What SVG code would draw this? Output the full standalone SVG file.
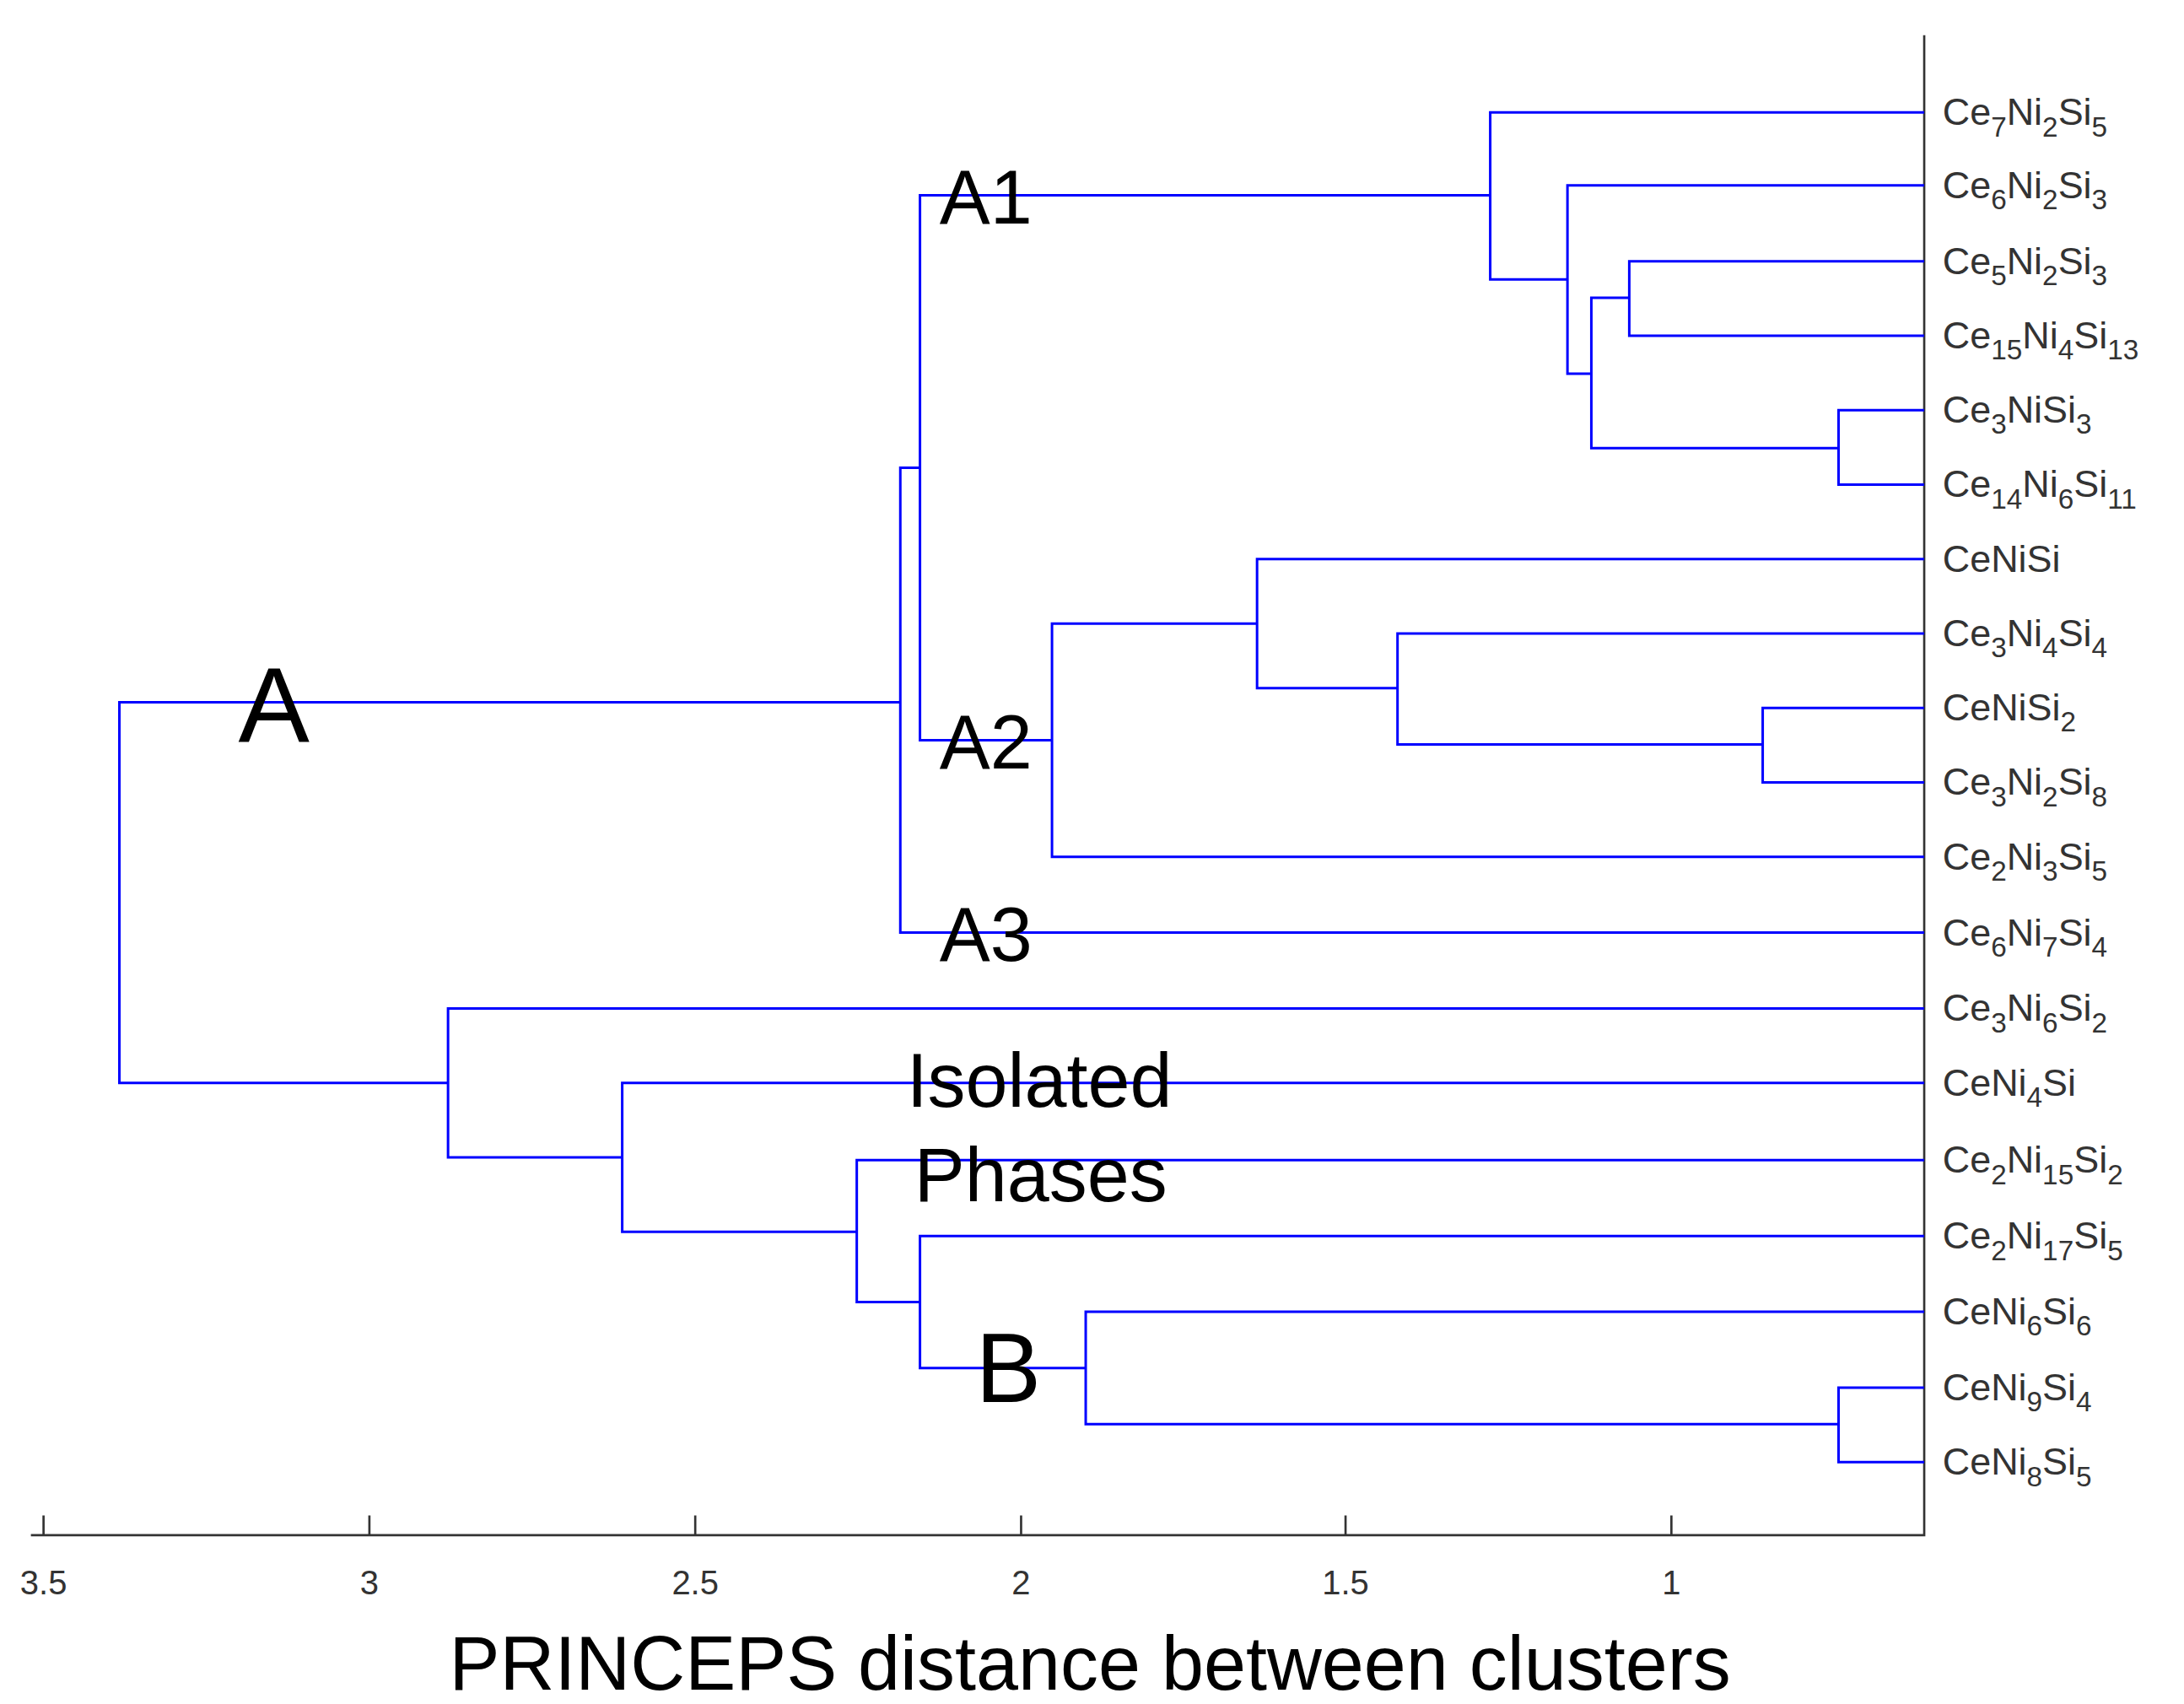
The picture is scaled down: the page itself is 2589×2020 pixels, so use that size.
<svg xmlns="http://www.w3.org/2000/svg" width="2589" height="2020" viewBox="0 0 2589 2020">
<style>
.ln{fill:none;stroke:#0000ff;stroke-width:1.8}
.ax{fill:none;stroke:#333;stroke-width:1.6}
.lf{font-family:"Liberation Sans",Arial,sans-serif;font-size:27px;fill:#333}
.s{font-size:20px}
.tk{font-family:"Liberation Sans",Arial,sans-serif;font-size:24px;fill:#333;text-anchor:middle}
.big{font-family:"Liberation Sans",Arial,sans-serif;fill:#000}
</style>
<rect width="2589" height="2020" fill="#fff"/>
<g transform="scale(1.665)">
<g id="axes">
<path class="ax" d="M1370 25V1093H22"/>
<path class="ax" d="M31 1093v-14M263 1093v-14M495 1093v-14M727 1093v-14M958 1093v-14M1190 1093v-14"/>
<text class="tk" x="31" y="1135">3.5</text><text class="tk" x="263" y="1135">3</text><text class="tk" x="495" y="1135">2.5</text><text class="tk" x="727" y="1135">2</text><text class="tk" x="958" y="1135">1.5</text><text class="tk" x="1190" y="1135">1</text>
<text class="big" x="776" y="1203" font-size="54" text-anchor="middle">PRINCEPS distance between clusters</text>
</g>
<g id="connectors">
<path class="ln" d="M1370 292H1309V345H1370M1370 186H1160V239H1370M1160 212H1133V319H1309M1370 132H1116V266H1133M1370 80H1061V199H1116M1061 139H655V527H749M1370 504H1255V557H1370M1370 451H995V530H1255M1370 398H895V490H995M895 444H749V610H1370M655 333H641V664H1370M641 500H85V771H319M1370 988H1309V1041H1370M1370 934H773V1014H1309M773 974H655V880H1370M655 927H610V826H1370M610 877H443V771H1370M443 824H319V718H1370"/>
</g>
<g id="leaves" class="lf">
<text x="1383" y="89">Ce<tspan class="s" dy="8">7</tspan><tspan dy="-8">Ni</tspan><tspan class="s" dy="8">2</tspan><tspan dy="-8">Si</tspan><tspan class="s" dy="8">5</tspan></text>
<text x="1383" y="141">Ce<tspan class="s" dy="8">6</tspan><tspan dy="-8">Ni</tspan><tspan class="s" dy="8">2</tspan><tspan dy="-8">Si</tspan><tspan class="s" dy="8">3</tspan></text>
<text x="1383" y="195">Ce<tspan class="s" dy="8">5</tspan><tspan dy="-8">Ni</tspan><tspan class="s" dy="8">2</tspan><tspan dy="-8">Si</tspan><tspan class="s" dy="8">3</tspan></text>
<text x="1383" y="248">Ce<tspan class="s" dy="8">15</tspan><tspan dy="-8">Ni</tspan><tspan class="s" dy="8">4</tspan><tspan dy="-8">Si</tspan><tspan class="s" dy="8">13</tspan></text>
<text x="1383" y="301">Ce<tspan class="s" dy="8">3</tspan><tspan dy="-8">NiSi</tspan><tspan class="s" dy="8">3</tspan></text>
<text x="1383" y="354">Ce<tspan class="s" dy="8">14</tspan><tspan dy="-8">Ni</tspan><tspan class="s" dy="8">6</tspan><tspan dy="-8">Si</tspan><tspan class="s" dy="8">11</tspan></text>
<text x="1383" y="407">CeNiSi</text>
<text x="1383" y="460">Ce<tspan class="s" dy="8">3</tspan><tspan dy="-8">Ni</tspan><tspan class="s" dy="8">4</tspan><tspan dy="-8">Si</tspan><tspan class="s" dy="8">4</tspan></text>
<text x="1383" y="513">CeNiSi<tspan class="s" dy="8">2</tspan></text>
<text x="1383" y="566">Ce<tspan class="s" dy="8">3</tspan><tspan dy="-8">Ni</tspan><tspan class="s" dy="8">2</tspan><tspan dy="-8">Si</tspan><tspan class="s" dy="8">8</tspan></text>
<text x="1383" y="619">Ce<tspan class="s" dy="8">2</tspan><tspan dy="-8">Ni</tspan><tspan class="s" dy="8">3</tspan><tspan dy="-8">Si</tspan><tspan class="s" dy="8">5</tspan></text>
<text x="1383" y="673">Ce<tspan class="s" dy="8">6</tspan><tspan dy="-8">Ni</tspan><tspan class="s" dy="8">7</tspan><tspan dy="-8">Si</tspan><tspan class="s" dy="8">4</tspan></text>
<text x="1383" y="727">Ce<tspan class="s" dy="8">3</tspan><tspan dy="-8">Ni</tspan><tspan class="s" dy="8">6</tspan><tspan dy="-8">Si</tspan><tspan class="s" dy="8">2</tspan></text>
<text x="1383" y="780">CeNi<tspan class="s" dy="8">4</tspan><tspan dy="-8">Si</tspan></text>
<text x="1383" y="835">Ce<tspan class="s" dy="8">2</tspan><tspan dy="-8">Ni</tspan><tspan class="s" dy="8">15</tspan><tspan dy="-8">Si</tspan><tspan class="s" dy="8">2</tspan></text>
<text x="1383" y="889">Ce<tspan class="s" dy="8">2</tspan><tspan dy="-8">Ni</tspan><tspan class="s" dy="8">17</tspan><tspan dy="-8">Si</tspan><tspan class="s" dy="8">5</tspan></text>
<text x="1383" y="943">CeNi<tspan class="s" dy="8">6</tspan><tspan dy="-8">Si</tspan><tspan class="s" dy="8">6</tspan></text>
<text x="1383" y="997">CeNi<tspan class="s" dy="8">9</tspan><tspan dy="-8">Si</tspan><tspan class="s" dy="8">4</tspan></text>
<text x="1383" y="1050">CeNi<tspan class="s" dy="8">8</tspan><tspan dy="-8">Si</tspan><tspan class="s" dy="8">5</tspan></text>
</g>
<g id="cluster-labels" class="big">
<text x="195" y="528" font-size="76" text-anchor="middle">A</text>
<text x="702" y="159" font-size="54" text-anchor="middle">A1</text>
<text x="702" y="547" font-size="54" text-anchor="middle">A2</text>
<text x="702" y="684" font-size="54" text-anchor="middle">A3</text>
<text x="740" y="788" font-size="54" text-anchor="middle">Isolated</text>
<text x="741" y="855" font-size="54" text-anchor="middle">Phases</text>
<text x="718" y="998" font-size="70" text-anchor="middle">B</text>
</g>
</g>
</svg>
